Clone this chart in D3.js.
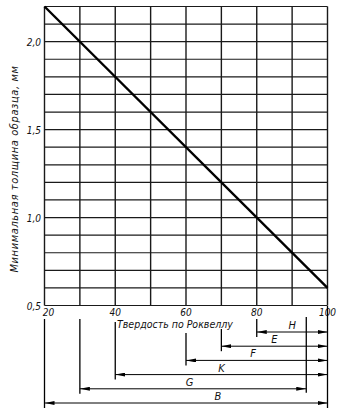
<!DOCTYPE html>
<html>
<head>
<meta charset="utf-8">
<script src="https://cdn.jsdelivr.net/npm/d3@7"></script>
<style>
  body { margin: 0; background: #fff; }
  svg text { font-family: "DejaVu Sans Condensed", "DejaVu Sans", sans-serif; font-style: italic; fill: #111; }
</style>
</head>
<body>
<svg id="chart" width="354" height="416"></svg>
<script>
// Rockwell hardness vs minimal specimen thickness
var hardness = [20, 100];
var thickness = [2.2, 0.6];
var xTicks = [20, 40, 60, 80, 100];
var yTicks = [0.5, 1.0, 1.5, 2.0];
var xGrid = d3.range(20, 101, 10);
var yGrid = d3.range(5, 23).map(function(d) { return d / 10; });

// Rockwell scales and their ranges
var scaleNames = ["H", "E", "F", "K", "G", "B"];
var scaleFrom = [80, 70, 60, 40, 30, 20];
var scaleTo = [100, 100, 100, 100, 94, 100];
var labelAt = [90, 85, 79, 70, 61, 69];

var xTitle = "Твердость по Роквеллу";
var yTitle = "Минимальная толщина образца, мм";

var svg = d3.select("svg#chart");

var chart_vars = {
  left: 44.5,
  right: 327.5,
  top: 6.5,
  bottom: 305.5
};

var xScale = d3.scaleLinear().domain([20, 100]).range([chart_vars.left, chart_vars.right]);
var yScale = d3.scaleLinear().domain([0.5, 2.2]).range([chart_vars.bottom, chart_vars.top]);

var fmt = function(d) { return d3.format(".1f")(d).replace(".", ","); };

var g = svg.append("g").attr("class", "grid");

g.selectAll("line.v").data(xGrid).enter().append("line")
  .attr("class", "v")
  .attr("x1", function(d) { return xScale(d); })
  .attr("x2", function(d) { return xScale(d); })
  .attr("y1", yScale(2.2))
  .attr("y2", yScale(0.5))
  .style("stroke", "#1a1a1a")
  .style("stroke-width", 1.4);

g.selectAll("line.h").data(yGrid).enter().append("line")
  .attr("class", "h")
  .attr("x1", xScale(20))
  .attr("x2", xScale(100))
  .attr("y1", function(d) { return yScale(d); })
  .attr("y2", function(d) { return yScale(d); })
  .style("stroke", "#1a1a1a")
  .style("stroke-width", 1.2);

// main line
var line = d3.line()
  .x(function(d) { return xScale(d[0]); })
  .y(function(d) { return yScale(d[1]); });

svg.append("path")
  .datum(d3.zip(hardness, thickness))
  .attr("d", line)
  .style("fill", "none")
  .style("stroke", "#000")
  .style("stroke-width", 2.4);

// tick labels
svg.selectAll("text.xt").data(xTicks).enter().append("text")
  .attr("class", "xt")
  .attr("x", function(d) { return xScale(d) + (d == 20 ? 4 : 0); })
  .attr("y", 315.5)
  .attr("text-anchor", "middle")
  .style("font-size", "10px")
  .text(function(d) { return d; });

svg.selectAll("text.yt").data(yTicks).enter().append("text")
  .attr("class", "yt")
  .attr("x", 41)
  .attr("y", function(d) { return yScale(d) + 4; })
  .attr("text-anchor", "end")
  .style("font-size", "10px")
  .text(fmt);

svg.append("text")
  .attr("x", 117)
  .attr("y", 327.5)
  .style("font-size", "10.5px")
  .text(xTitle);

svg.append("text")
  .attr("transform", "translate(18," + 169 + ") rotate(-90)")
  .attr("text-anchor", "middle")
  .style("font-size", "11px")
  .style("letter-spacing", "0.6px")
  .text(yTitle);

// arrow markers
var defs = svg.append("defs");
defs.append("marker")
  .attr("id", "arr")
  .attr("viewBox", "0 0 10 4")
  .attr("refX", 10).attr("refY", 2)
  .attr("markerWidth", 10).attr("markerHeight", 4)
  .attr("markerUnits", "userSpaceOnUse")
  .attr("orient", "auto-start-reverse")
  .append("path")
  .attr("d", "M0,0 L10,2 L0,4 Z")
  .style("fill", "#000");

// dimension lines for the scales
var dimY = function(i) { return 332 + i * 14.2; };

var dims = svg.append("g").attr("class", "dims");

dims.selectAll("line.dim").data(scaleNames).enter().append("line")
  .attr("class", "dim")
  .attr("x1", function(d, i) { return xScale(scaleFrom[i]); })
  .attr("x2", function(d, i) { return xScale(scaleTo[i]); })
  .attr("y1", function(d, i) { return dimY(i); })
  .attr("y2", function(d, i) { return dimY(i); })
  .attr("marker-start", "url(#arr)")
  .attr("marker-end", "url(#arr)")
  .style("stroke", "#000")
  .style("stroke-width", 1);

dims.selectAll("text.dl").data(scaleNames).enter().append("text")
  .attr("class", "dl")
  .attr("x", function(d, i) { return xScale(labelAt[i]); })
  .attr("y", function(d, i) { return dimY(i) - 3; })
  .attr("text-anchor", "middle")
  .style("font-size", "11px")
  .text(function(d) { return d; });

// extension lines
var extTop = {20: 319, 30: 319, 40: 322, 60: 333, 70: 329, 80: 319, 94: 317, 100: 306};
var extVals = scaleFrom.concat([94, 100]);
var extBottom = {};
scaleFrom.forEach(function(v, i) { extBottom[v] = dimY(i) + 5; });
extBottom[94] = dimY(4) + 4;
extBottom[100] = dimY(5) + 5;

dims.selectAll("line.ext").data(extVals).enter().append("line")
  .attr("class", "ext")
  .attr("x1", function(d) { return xScale(d); })
  .attr("x2", function(d) { return xScale(d); })
  .attr("y1", function(d) { return extTop[d]; })
  .attr("y2", function(d) { return extBottom[d]; })
  .style("stroke", "#000")
  .style("stroke-width", 1.3);
</script>
</body>
</html>
